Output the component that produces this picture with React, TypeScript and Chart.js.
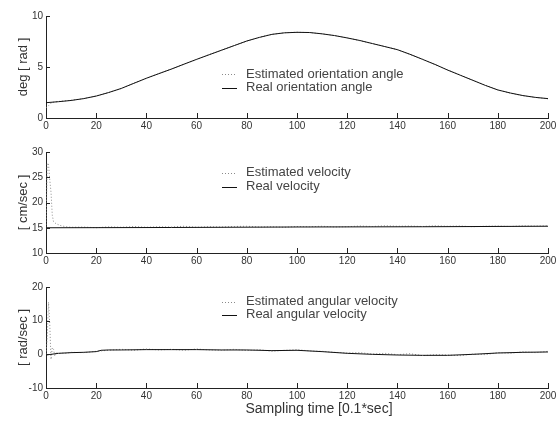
import React, { useEffect, useRef } from "react";
import { Chart, registerables } from "chart.js";

Chart.register(...registerables);

// ---------- data ----------
const xTickStep = 20;
const xMin = 0;
const xMax = 200;

// Panel 1: orientation angle [deg/rad]
const angleRealT = [0, 5, 10, 15, 20, 25, 30, 35, 40, 45, 50, 55, 60, 65, 70, 75, 80, 85, 90, 95, 100, 105, 110, 115, 120, 125, 130, 135, 140, 145, 150, 155, 160, 165, 170, 175, 180, 185, 190, 195, 200];
const angleReal = [1.5, 1.6, 1.72, 1.9, 2.15, 2.5, 2.9, 3.4, 3.9, 4.35, 4.8, 5.28, 5.75, 6.2, 6.65, 7.1, 7.55, 7.9, 8.2, 8.35, 8.4, 8.38, 8.25, 8.08, 7.85, 7.6, 7.3, 7.0, 6.7, 6.25, 5.75, 5.25, 4.7, 4.2, 3.7, 3.2, 2.75, 2.45, 2.2, 2.02, 1.9];
const angleEstT = [0, 1, 2, 3, 5, 10, 15, 20, 25, 30, 35, 40, 45, 50, 55, 60, 65, 70, 75, 80, 85, 90, 95, 100, 105, 110, 115, 120, 125, 130, 135, 140, 145, 150, 155, 160, 165, 170, 175, 180, 185, 190, 195, 200];
const angleEst = [1.0, 1.2, 1.45, 1.55, 1.62, 1.74, 1.9, 2.17, 2.5, 2.88, 3.42, 3.88, 4.37, 4.8, 5.28, 5.73, 6.22, 6.66, 7.12, 7.53, 7.92, 8.2, 8.36, 8.41, 8.37, 8.26, 8.08, 7.86, 7.58, 7.3, 7.02, 6.7, 6.23, 5.77, 5.23, 4.72, 4.22, 3.7, 3.22, 2.76, 2.43, 2.18, 2.02, 1.88];

// Panel 2: velocity [cm/sec]
const velRealT = [0, 50, 100, 150, 200];
const velReal = [15.0, 15.05, 15.15, 15.2, 15.3];
const velEstT = [0, 0.5, 1, 1.5, 2, 2.5, 3, 4, 5, 6, 8, 10, 15, 20, 25, 30, 35, 40, 45, 50, 55, 60, 65, 70, 75, 80, 85, 90, 95, 100, 105, 110, 115, 120, 125, 130, 135, 140, 145, 150, 155, 160, 165, 170, 175, 180, 185, 190, 195, 200];
const velEst = [15, 27.8, 27.6, 24.5, 22, 17.5, 16.2, 15.8, 15.6, 15.4, 15.2, 15.1, 15.15, 15.0, 15.2, 15.1, 15.25, 15.1, 15.2, 15.15, 15.3, 15.1, 15.2, 15.15, 15.25, 15.3, 15.15, 15.2, 15.1, 15.25, 15.2, 15.3, 15.15, 15.2, 15.35, 15.25, 15.4, 15.3, 15.35, 15.25, 15.4, 15.3, 15.35, 15.2, 15.3, 15.35, 15.25, 15.4, 15.35, 15.4];

// Panel 3: angular velocity [rad/sec]
const angVelRealT = [0, 5, 10, 15, 20, 22, 25, 30, 40, 50, 60, 70, 80, 90, 100, 110, 120, 130, 140, 150, 160, 170, 180, 190, 200];
const angVelReal = [-0.2, 0.3, 0.5, 0.6, 0.8, 1.2, 1.3, 1.3, 1.4, 1.4, 1.4, 1.3, 1.3, 1.1, 1.2, 0.8, 0.3, 0.0, -0.2, -0.3, -0.3, 0.0, 0.4, 0.6, 0.7];
const angVelEstT = [0, 0.5, 1, 1.5, 2, 2.5, 3, 3.5, 4, 5, 6, 8, 10, 15, 20, 25, 30, 35, 40, 45, 50, 55, 60, 65, 70, 75, 80, 85, 90, 95, 100, 105, 110, 115, 120, 125, 130, 135, 140, 145, 150, 155, 160, 165, 170, 175, 180, 185, 190, 195, 200];
const angVelEst = [0, 5, 15.5, 9, -1.5, 2, 1.5, -0.5, 0.6, 0.2, 0.4, 0.3, 0.6, 0.5, 0.9, 1.2, 1.5, 1.2, 1.6, 1.3, 1.5, 1.2, 1.6, 1.3, 1.2, 1.5, 1.1, 1.4, 0.9, 1.2, 1.4, 1.0, 0.9, 0.6, 0.4, 0.5, 0.1, 0.3, -0.1, 0.2, -0.4, -0.1, -0.2, -0.4, 0.1, -0.1, 0.5, 0.3, 0.8, 0.5, 0.9];

const legend1 = ["Estimated orientation angle", "Real orientation angle"];
const legend2 = ["Estimated velocity", "Real velocity"];
const legend3 = ["Estimated angular velocity", "Real angular velocity"];
const yTitles = ["deg [ rad ]", "[ cm/sec ]", "[ rad/sec ]"];
const xTitle = "Sampling time [0.1*sec]";

// ---------- styling ----------
const FONT = "'Liberation Sans', Arial, Helvetica, sans-serif";
const AXIS = "#222";
const TXT = "#333";
const EST_COLOR = "#8a8a8a";
const REAL_COLOR = "#111";

const zip = (t: number[], v: number[]) => t.map((x, i) => ({ x, y: v[i] }));

const inwardTicks = {
  id: "inwardTicks",
  afterDatasetsDraw(chart: any) {
    const { ctx, chartArea, scales } = chart;
    const xs = scales.x;
    const ys = scales.y;
    ctx.save();
    ctx.strokeStyle = AXIS;
    ctx.lineWidth = 1;
    ctx.beginPath();
    xs.ticks.forEach((t: any) => {
      const px = Math.round(xs.getPixelForValue(t.value)) + 0.5;
      ctx.moveTo(px, chartArea.bottom);
      ctx.lineTo(px, chartArea.bottom - 5);
    });
    ys.ticks.forEach((t: any) => {
      const py = Math.round(ys.getPixelForValue(t.value)) + 0.5;
      ctx.moveTo(chartArea.left, py);
      ctx.lineTo(chartArea.left + 4, py);
    });
    ctx.stroke();
    ctx.restore();
  },
};

const innerLegend = {
  id: "innerLegend",
  afterDraw(chart: any, _args: any, opts: any) {
    if (!opts || !opts.labels) return;
    const { ctx, chartArea } = chart;
    const x0 = chartArea.left + opts.dx;
    ctx.save();
    ctx.font = `13px ${FONT}`;
    ctx.textBaseline = "middle";
    ctx.textAlign = "left";
    opts.labels.forEach((label: string, i: number) => {
      const y = chartArea.top + opts.rows[i];
      const ds = chart.data.datasets[opts.datasetIndex[i]];
      ctx.strokeStyle = ds.borderColor;
      ctx.lineWidth = 1;
      ctx.setLineDash(ds.borderDash || []);
      ctx.beginPath();
      ctx.moveTo(x0, Math.round(y) + 0.5);
      ctx.lineTo(x0 + 15, Math.round(y) + 0.5);
      ctx.stroke();
      ctx.setLineDash([]);
      ctx.fillStyle = "#444";
      ctx.fillText(label, x0 + 24, y);
    });
    ctx.restore();
  },
};

const bottomTitle = {
  id: "bottomTitle",
  afterDraw(chart: any, _args: any, opts: any) {
    if (!opts || !opts.text) return;
    const { ctx, chartArea } = chart;
    ctx.save();
    ctx.font = `14px ${FONT}`;
    ctx.fillStyle = TXT;
    ctx.textAlign = "center";
    ctx.textBaseline = "alphabetic";
    ctx.fillText(opts.text, (chartArea.left + chartArea.right) / 2 + opts.dx, chartArea.bottom + opts.dy);
    ctx.restore();
  },
};

function makeConfig(p: any) {
  return {
    type: "line",
    data: {
      datasets: [
        {
          label: p.labels[1],
          data: p.real,
          borderColor: REAL_COLOR,
          borderWidth: 1,
          pointRadius: 0,
          tension: 0,
          fill: false,
        },
        {
          label: p.labels[0],
          data: p.est,
          borderColor: EST_COLOR,
          borderWidth: 1,
          borderDash: [1, 2],
          pointRadius: 0,
          tension: 0,
          fill: false,
        },
      ],
    },
    options: {
      animation: false,
      responsive: false,
      events: [],
      layout: { padding: { top: p.padTop, left: 0, right: 8, bottom: 0 } },
      scales: {
        x: {
          type: "linear",
          min: xMin,
          max: xMax,
          ticks: { stepSize: xTickStep, font: { family: FONT, size: 10 }, color: TXT, padding: 2, maxRotation: 0, autoSkip: false },
          grid: { display: false, drawTicks: false },
          border: { display: true, color: AXIS, width: 1 },
          afterFit: (s: any) => {
            s.height = p.xHeight;
            s.paddingRight = 0;
            s.paddingLeft = 0;
          },
        },
        y: {
          type: "linear",
          min: p.yMin,
          max: p.yMax,
          ticks: { stepSize: p.yStep, font: { family: FONT, size: 10 }, color: TXT, padding: 3 },
          grid: { display: false, drawTicks: false },
          border: { display: true, color: AXIS, width: 1 },
          title: { display: true, text: p.yTitle, color: TXT, font: { family: FONT, size: 13 }, padding: { top: 16, bottom: 0 } },
          afterFit: (s: any) => { s.width = 46; },
        },
      },
      plugins: {
        legend: { display: false },
        tooltip: { enabled: false },
        innerLegend: { labels: p.labels, rows: p.rows, dx: 176, datasetIndex: [1, 0] },
        bottomTitle: p.bottomTitle || {},
      },
    },
    plugins: [inwardTicks, innerLegend, bottomTitle],
  };
}

function Panel({ top, height, config }: { top: number; height: number; config: any }) {
  const ref = useRef<HTMLCanvasElement | null>(null);
  useEffect(() => {
    if (!ref.current) return;
    const chart = new Chart(ref.current, config);
    return () => chart.destroy();
  }, []);
  return (
    <canvas
      ref={ref}
      width={556}
      height={height}
      style={{ position: "absolute", left: 0, top, width: 556, height }}
    />
  );
}

export default function App() {
  const c1 = makeConfig({
    real: zip(angleRealT, angleReal),
    est: zip(angleEstT, angleEst),
    labels: legend1,
    yMin: 0, yMax: 10, yStep: 5,
    yTitle: yTitles[0],
    padTop: 16, xHeight: 17,
    rows: [58, 71.5],
  });
  const c2 = makeConfig({
    real: zip(velRealT, velReal),
    est: zip(velEstT, velEst),
    labels: legend2,
    yMin: 10, yMax: 30, yStep: 5,
    yTitle: yTitles[1],
    padTop: 17, xHeight: 17,
    rows: [20.5, 34.5],
  });
  const c3 = makeConfig({
    real: zip(angVelRealT, angVelReal),
    est: zip(angVelEstT, angVelEst),
    labels: legend3,
    yMin: -10, yMax: 20, yStep: 10,
    yTitle: yTitles[2],
    padTop: 17, xHeight: 33,
    rows: [14.5, 27.5],
    bottomTitle: { text: xTitle, dx: 22, dy: 25 },
  });
  return (
    <div style={{ position: "absolute", left: 0, top: 0, width: 556, height: 421, background: "#fff" }}>
      <Panel top={0} height={135} config={c1} />
      <Panel top={135} height={135} config={c2} />
      <Panel top={270} height={151} config={c3} />
    </div>
  );
}
